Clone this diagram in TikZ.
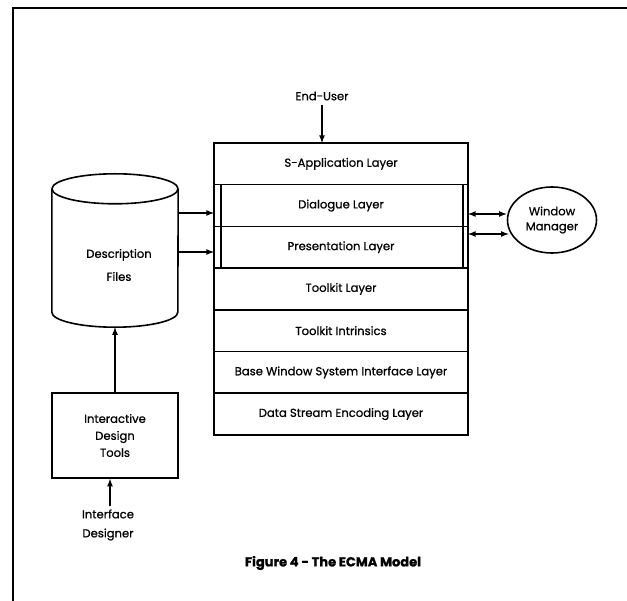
\documentclass[tikz,border=0pt]{standalone}
\usepackage{fontspec}
\setmainfont{Poppins}[FakeBold=1.2]
\newfontfamily\heavyfont{Poppins}[FakeBold=0.8]
\usetikzlibrary{positioning,shapes.geometric,arrows,calc}

\tikzset{
  layer/.style={draw,rectangle,line width=1.6pt,minimum width=254pt,minimum height=41.7pt,
    inner sep=0pt,outer sep=0pt,font=\heavyfont\fontsize{11.6}{13}\selectfont},
  lbl/.style={align=center,inner sep=0pt,font=\heavyfont\fontsize{11.6}{13}\selectfont},
  conn/.style={->,>=latex,line width=1.6pt},
}

\begin{document}
\begin{tikzpicture}[x=1pt,y=1pt]
\useasboundingbox (0,0) rectangle (627,-601);
% frame
\draw[line width=2.6pt] (13,-601) -- (13,-8) -- (627,-8);

% the layers
\node[layer] (sapp) at (341,-163.85) {S-Application Layer};
\node[layer,below=0pt of sapp] (dlg) {Dialogue Layer};
\node[layer,below=0pt of dlg] (pres) {Presentation Layer};
\node[layer,below=0pt of pres] (tkl) {Toolkit Layer};
\node[layer,below=0pt of tkl] (tki) {Toolkit Intrinsics};
\node[layer,below=0pt of tki] (bws) {Base Window System Interface Layer};
\node[layer,below=0pt of bws] (dse) {Data Stream Encoding Layer};
\draw[line width=1.6pt] ([xshift=7pt]dlg.north west) rectangle ([xshift=-5pt]pres.south east);

% end user
\node[lbl] (user) at (322,-96) {End-User};
\draw[conn] ([yshift=-4pt]user.south) -- (user.south |- sapp.north);

% description files
\node[minimum width=126pt,minimum height=123pt,inner sep=0pt] (desc) at (115,-250.5) {};
\draw[line width=1.6pt] (desc.north west) -- (desc.south west)
  arc[start angle=180,end angle=360,x radius=63pt,y radius=15pt] -- (desc.north east);
\draw[line width=1.6pt] (desc.north) ellipse[x radius=63pt,y radius=15pt];
\node[lbl] (desctext) at (119,-265) {Description\\[10pt]Files};
\draw[conn] (desc.east |- 0,-213) -- (dlg.west |- 0,-213);
\draw[conn] (desc.east |- 0,-252) -- (pres.west |- 0,-252);

% window manager
\node[draw,ellipse,line width=1.6pt,minimum width=89pt,minimum height=66pt,inner sep=0pt,
  lbl] (wm) at (552,-220) {Window\\[2pt]Manager};
\draw[conn,<->] (dlg.east |- 0,-214) -- (wm.west |- 0,-214);
\draw[conn,<->] (pres.east |- 0,-234) -- ([xshift=2pt]wm.west |- 0,-234);

% design tools
\node[draw,rectangle,line width=1.6pt,minimum width=126pt,minimum height=85pt,lbl] (idt)
  at (115,-435.5) {Interactive\\[4pt]Design\\[4pt]Tools};
\draw[conn] (idt.north) -- ([yshift=-15pt]desc.south);
\node[lbl] (designer) at (108,-525) {Interface\\[6pt]Designer};
\draw[conn] ([xshift=2pt,yshift=3pt]designer.north) -- ([xshift=2pt]designer.north |- idt.south);

% caption
\node[lbl,font=\fontsize{13}{15}\selectfont\bfseries] (caption) at (333,-563) {Figure 4 - The ECMA Model};
\end{tikzpicture}
\end{document}
